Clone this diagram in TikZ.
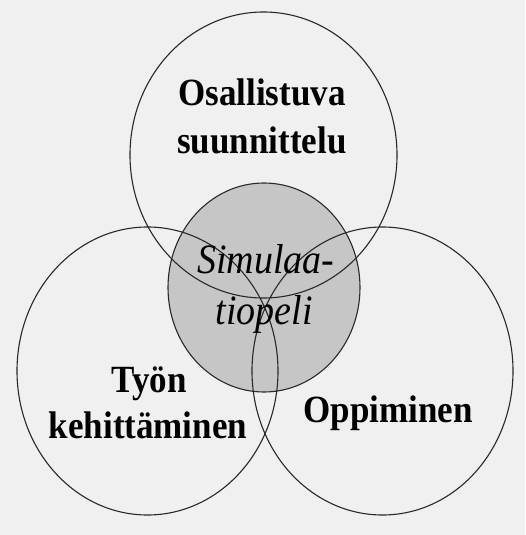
\documentclass[tikz,border=0pt]{standalone}
\usepackage{fontspec}
\setmainfont{Liberation Serif}
\usepackage{xcolor}
\usepackage{tikz}
\usetikzlibrary{positioning}
\definecolor{paper}{RGB}{240,240,240}
\definecolor{coregray}{RGB}{198,198,198}
\definecolor{inkline}{RGB}{40,40,40}

\begin{document}
\begin{tikzpicture}[x=1pt,y=1pt,
  ring/.style={draw=inkline,line width=1.1pt},
  lbl/.style={font=\fontsize{35}{40}\bfseries\selectfont,anchor=base,inner sep=0pt,transform shape,yscale=1.1},
  sim/.style={font=\fontsize{38}{44}\itshape\selectfont,anchor=base,inner sep=0pt,transform shape,yscale=1.1}]
% ---------- tausta ----------
\fill[paper] (0,0) rectangle (525,-535);
\useasboundingbox (0,0) rectangle (525,-535);
% harmaa keskiympyrä
\fill[coregray] (264,-287.5) ellipse [x radius=96,y radius=104.5];
% ---------- kolme ympyrää ----------
\draw[ring] (263.5,-155) ellipse [x radius=133.5,y radius=143];
\draw[ring] (147.5,-371) ellipse [x radius=130.5,y radius=144];
\draw[ring] (382.5,-371) ellipse [x radius=130.5,y radius=144];
\draw[ring] (264,-287.5) ellipse [x radius=96,y radius=104.5];
% ---------- tekstit ----------
\node[lbl] (osa1) at (262,-105) {Osallistuva};
\node[lbl] (osa2) at (262,-153) {suunnittelu};
\node[sim] (sim1) at (266,-273) {Simulaa-};
\node[sim] (sim2) at (264,-324) {tiopeli};
\node[lbl] (tyo1) at (149,-392) {Työn};
\node[lbl] (tyo2) at (148,-438) {kehittäminen};
\node[lbl] (opp) at (388,-422) {Oppiminen};
\end{tikzpicture}
\end{document}
